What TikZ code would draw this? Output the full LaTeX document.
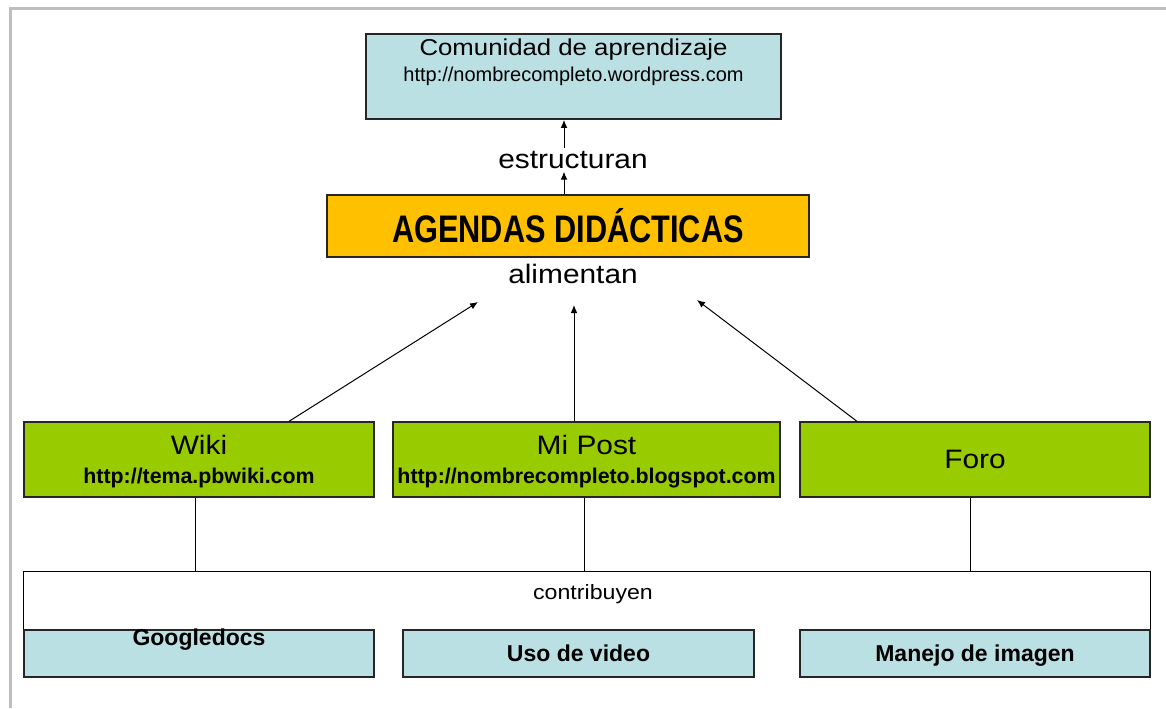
\documentclass[tikz,border=0pt]{standalone}
\usepackage{fontspec}
\setmainfont{Liberation Sans}
\newfontfamily\widefont{Liberation Sans}[FakeStretch=1.12]
\newfontfamily\narrowfont{Liberation Sans}[FakeStretch=0.8]
\newcommand{\grandefont}{\widefont\fontsize{20}{21.75}\selectfont}
\usetikzlibrary{positioning,calc,arrows.meta}
\definecolor{celeste}{RGB}{187,224,227}
\definecolor{verde}{RGB}{153,204,0}
\definecolor{naranja}{RGB}{255,192,0}
\definecolor{marco}{RGB}{190,190,190}
\tikzset{
  >={Latex[length=6pt,width=5pt]},
  caja/.style={rectangle, draw=black!85, line width=1pt, inner sep=0pt},
  celestebox/.style={caja, fill=celeste, minimum height=35.25pt},
  verdebox/.style={caja, fill=verde, minimum height=56.25pt, align=center,
                   font=\fontsize{16}{21.75}\selectfont, text depth=0pt},
  grande/.style={font=\grandefont},
  etiqueta/.style={grande, inner sep=2pt},
  negrita/.style={font=\bfseries\fontsize{17.25}{18}\selectfont},
  flecha/.style={draw, line width=0.75pt, ->},
  linea/.style={draw, line width=0.75pt}
}

\begin{document}
\begin{tikzpicture}[x=0.75pt,y=-0.75pt]
    \useasboundingbox (0,0) rectangle (1166,708);
    % Marco
    \draw [marco,line width=2.25pt] (10,708) -- (10,8) -- (1166,8);

    % Comunidad
    \node[caja, fill=celeste, line width=1.4pt, minimum width=311.25pt, minimum height=63.75pt] (comunidad) at (573.5,76.5) {};
    \node[anchor=base, inner sep=0pt, font=\widefont\fontsize{17.25}{18}\selectfont] (comtitulo) at ($(comunidad.north)+(0,22)$) {Comunidad de aprendizaje};
    \node[anchor=base, inner sep=0pt, font=\fontsize{15}{16}\selectfont] (comurl) at ($(comunidad.north)+(0,48)$) {http://nombrecompleto.wordpress.com};

    \node[etiqueta] (estructuran) at (573,160) {estructuran};
    \node[caja, fill=naranja, minimum width=361.5pt, minimum height=46.5pt,
          font=\narrowfont\bfseries\fontsize{28.8}{30}\selectfont] (agendas) at (568,226) {AGENDAS DIDÁCTICAS};
    \node[etiqueta] (alimentan) at (573,274) {alimentan};

    \coordinate (eje) at (564,0);
    \draw[flecha] (estructuran.north -| eje) -- (comunidad.south -| eje);
    \draw[flecha] (agendas.north -| eje) -- (estructuran.south -| eje);

    % Herramientas
    \node[verdebox, minimum width=262.5pt] (wiki) at (199,459.5) {{\grandefont Wiki}\\{\bfseries http://tema.pbwiki.com}};
    \node[verdebox, minimum width=290.25pt] (mipost) at (586.5,459.5) {{\grandefont Mi Post}\\{\bfseries http://nombrecompleto.blogspot.com}};
    \node[verdebox, minimum width=262.5pt, grande] (foro) at (975,459.5) {Foro};

    \coordinate (aliizq) at (478,302);
    \coordinate (alicen) at (574,305);
    \coordinate (alider) at (697,300);
    \draw[flecha] ($(wiki.north)+(90,0)$) -- (aliizq);
    \draw[flecha] (mipost.north -| alicen) -- (alicen);
    \draw[flecha] ($(foro.north)+(-118,0)$) -- (alider);

    % Contribuyen
    \node[fill=white, inner sep=0pt, minimum width=844.5pt, minimum height=43.5pt] (contrib) at (587,601) {};
    \draw[linea] (contrib.south west) -- (contrib.north west) -- (contrib.north east) -- (contrib.south east);
    \node[anchor=base, inner sep=0pt, font=\widefont\fontsize{15.5}{16}\selectfont] (contribtxt) at ($(contrib.north)+(6,28)$) {contribuyen};

    \draw[linea] ($(wiki.south)+(-4,0)$) -- ($(wiki.south |- contrib.north)+(-4,0)$);
    \draw[linea] ($(mipost.south)+(-2,0)$) -- ($(mipost.south |- contrib.north)+(-2,0)$);
    \draw[linea] ($(foro.south)+(-5,0)$) -- ($(foro.south |- contrib.north)+(-5,0)$);

    \node[celestebox, minimum width=262.5pt] (googledocs) at (199,653.5) {};
    \node[negrita, anchor=base, inner sep=0pt] (googletxt) at ($(googledocs.north)+(0,16)$) {Googledocs};
    \node[celestebox, negrita, minimum width=263.25pt, text height=12.4pt, text depth=0pt] (video) at (578.5,653.5) {Uso de video};
    \node[celestebox, negrita, minimum width=262.5pt, text height=12.4pt, text depth=0pt] (imagen) at (975,653.5) {Manejo de imagen};

\end{tikzpicture}
\end{document}
